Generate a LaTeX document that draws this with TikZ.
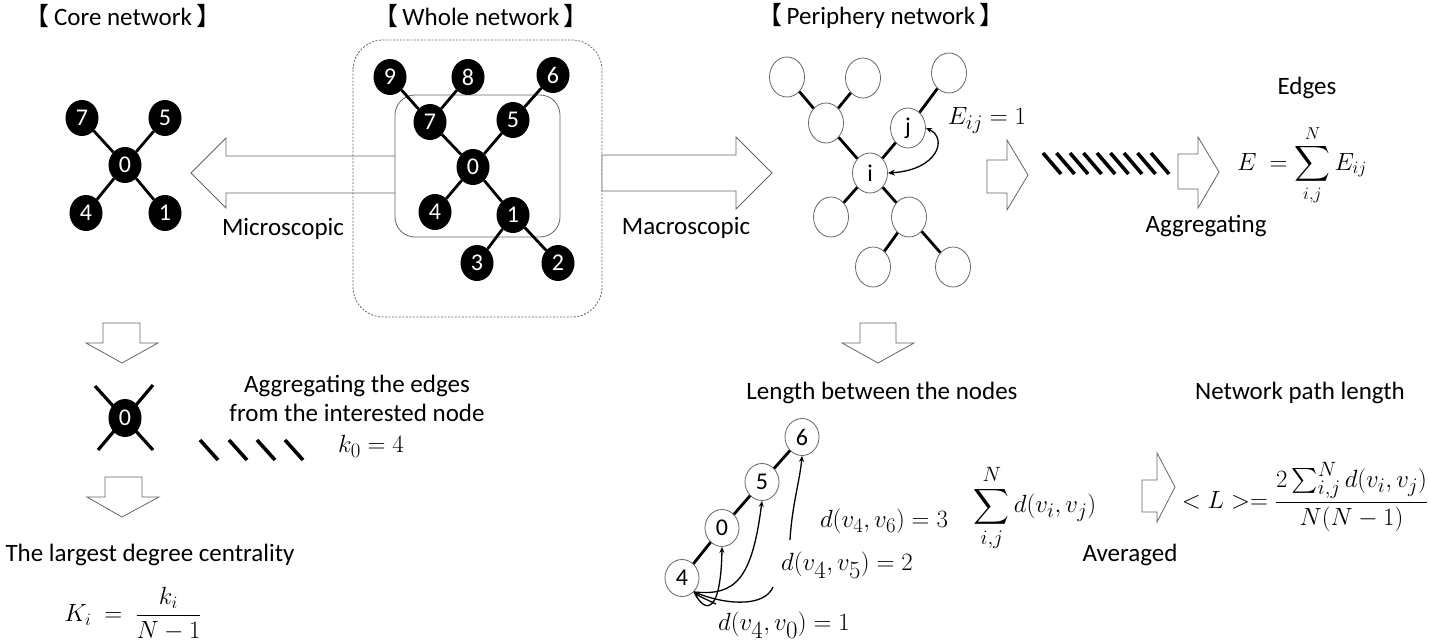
\documentclass[tikz,border=0pt]{standalone}
\usepackage{amsmath}
\usepackage{fontspec}
\setmainfont{Carlito}
\newfontfamily\cjk{Noto Sans CJK JP}
\usetikzlibrary{arrows.meta,shapes.geometric}
\begin{document}
\begin{tikzpicture}[x=1pt,y=-1pt,
  every node/.style={font=\fontsize{25}{29}\selectfont},
  bnode/.style={ellipse,fill=black,text=white,minimum width=33pt,minimum height=36pt,inner sep=0pt,font=\fontsize{24}{28}\selectfont},
  wnode/.style={ellipse,draw=black!60,line width=0.8pt,fill=white,minimum width=35pt,minimum height=40pt,inner sep=0pt,font=\fontsize{24}{28}\selectfont},
  cnode/.style={ellipse,draw=black!60,line width=0.8pt,fill=white,minimum width=34pt,minimum height=37pt,inner sep=0pt,font=\fontsize{24}{28}\selectfont},
  edge/.style={line width=2.8pt},
  blockarrow/.style={draw=black!60,line width=0.8pt,fill=white,line join=miter},
  hatch/.style={line width=3.6pt},
  darrow/.style={line width=1.3pt,-{Stealth[length=6pt,width=5pt]}},
  mathlbl/.style={font=\fontsize{27}{31}\selectfont,inner sep=0pt},
  bigmath/.style={font=\fontsize{33}{37}\selectfont,inner sep=0pt},
]
\useasboundingbox (0,0) rectangle (1429,642);

% titles
\node (t1) at (123,16) {{\cjk 【}\,Core network\,{\cjk 】}};
\node (t2) at (481,16) {{\cjk 【}\,Whole network\,{\cjk 】}};
\node (t3) at (881,16) {{\cjk 【}\,Periphery network\,{\cjk 】}};

% whole network boxes
\draw[black!60,line width=0.8pt,dash pattern=on 2pt off 1.5pt,rounded corners=30pt] (353,40) rectangle (602,317);
\draw[black!60,line width=0.8pt,rounded corners=20pt] (395,95) rectangle (560,237);

% big arrows
\draw[blockarrow,fill=none] (395,156) -- (226,156) -- (226,138) -- (191,173) -- (226,208) -- (226,193) -- (395,193);
\draw[blockarrow] (602,155) -- (736,155) -- (736,137) -- (772,173) -- (736,209) -- (736,191) -- (602,191) -- cycle;
\node (micro) at (283,229) {Microscopic};
\node (macro) at (686,228) {Macroscopic};

% core network
\node[bnode] (c7) at (82,118) {7};
\node[bnode] (c5) at (165,118) {5};
\node[bnode] (c0) at (125,165) {0};
\node[bnode] (c4) at (86,213) {4};
\node[bnode] (c1) at (165,213) {1};
\foreach \a in {c7,c5,c4,c1} \draw[edge] (c0) -- (\a);

% whole network
\node[bnode] (w9) at (390,77) {9};
\node[bnode] (w8) at (468,77) {8};
\node[bnode] (w6) at (553,75) {6};
\node[bnode] (w7) at (430,122) {7};
\node[bnode] (w5) at (513,120) {5};
\node[bnode] (w0) at (473,167) {0};
\node[bnode] (w4) at (435,212) {4};
\node[bnode] (w1) at (513,215) {1};
\node[bnode] (w3) at (477,263) {3};
\node[bnode] (w2) at (558,263) {2};
\draw[edge] (w9) -- (w7);
\draw[edge] (w8) -- (w7);
\draw[edge] (w7) -- (w0);
\draw[edge] (w6) -- (w5);
\draw[edge] (w5) -- (w0);
\draw[edge] (w0) -- (w4);
\draw[edge] (w0) -- (w1);
\draw[edge] (w1) -- (w3);
\draw[edge] (w1) -- (w2);

% periphery network
\node[wnode] (ptl) at (787,77) {};
\node[wnode] (ptm) at (863,78) {};
\node[wnode] (ptr) at (949,73) {};
\node[wnode] (pml) at (826,123) {};
\node[wnode] (pj) at (908,128) {j};
\node[wnode] (pi) at (870,173) {i};
\node[wnode] (pll) at (831,217) {};
\node[wnode] (plr) at (909,217) {};
\node[wnode] (pbl) at (873,267) {};
\node[wnode] (pbr) at (953,267) {};
\draw[edge] (ptl) -- (pml);
\draw[edge] (ptm) -- (pml);
\draw[edge] (pml) -- (pi);
\draw[edge] (ptr) -- (pj);
\draw[edge] (pj) -- (pi);
\draw[edge] (pi) -- (pll);
\draw[edge] (pi) -- (plr);
\draw[edge] (plr) -- (pbl);
\draw[edge] (plr) -- (pbr);
\draw[line width=1.3pt,{Stealth[length=7pt,width=6pt]}-{Stealth[length=6pt,width=5pt]}] (pi.east) .. controls (938,170) and (948,138) .. (pj.east);
\node[mathlbl,font=\fontsize{29}{33}\selectfont] (eij) at (987,121) {$E_{ij}=1$};

% small arrows top right
\draw[blockarrow] (987,160) -- (1007,160) -- (1007,140) -- (1028,175) -- (1007,210) -- (1007,193) -- (987,193) -- cycle;
\foreach \k in {0,...,8} \draw[hatch] (1043+13.5*\k,153) -- (1061+13.5*\k,174);
\draw[blockarrow] (1178,154) -- (1198,154) -- (1198,137) -- (1219,172) -- (1198,208) -- (1198,189) -- (1178,189) -- cycle;
\node (edges) at (1307,88) {Edges};
\node[mathlbl] (esum) at (1302,165) {$\displaystyle E\ =\sum_{i,j}^{N}E_{ij}$};
\node (aggr) at (1206,226) {Aggregating};

% bottom left
\draw[blockarrow] (103,323) -- (140,323) -- (140,343) -- (158,343) -- (122,363) -- (86,343) -- (103,343) -- cycle;
\draw[line width=3.2pt] (95,386) -- (153,450);
\draw[line width=3.2pt] (153,385) -- (98,450);
\node[bnode,minimum width=33pt,minimum height=38pt] (x0) at (125,418) {0};
\foreach \x in {200,229,257,285} \draw[hatch] (\x,440) -- (\x+18,460);
\node[align=center] (aggtxt) at (357,398) {Aggregating the edges\\from the interested node};
\node[mathlbl,font=\fontsize{30}{34}\selectfont] (k0) at (371,446) {$k_0=4$};
\draw[blockarrow] (105,477) -- (142,477) -- (142,497) -- (159,497) -- (122,517) -- (87,497) -- (105,497) -- cycle;
\node (largest) at (150,555) {The largest degree centrality};
\node[mathlbl] (Kf) at (133,614) {$K_i\ =\ \dfrac{k_i}{N-1}$};

% bottom middle
\draw[blockarrow] (860,323) -- (896,323) -- (896,343) -- (914,343) -- (878,363) -- (842,343) -- (860,343) -- cycle;
\node (lenb) at (882,393) {Length between the nodes};
\node[cnode] (n6) at (802,437) {6};
\node[cnode] (n5) at (762,482) {5};
\node[cnode] (n0) at (722,528) {0};
\node[cnode] (n4) at (682,578) {4};
\draw[edge] (n4) -- (n0);
\draw[edge] (n0) -- (n5);
\draw[edge] (n5) -- (n6);
\coordinate (h4) at (694,592);
\coordinate (s6) at (790,540);
\coordinate (s5) at (773,587);
\draw[darrow] (h4) .. controls (706,616) and (721,612) .. (n0.south);
\draw[darrow] (h4) .. controls (735,596) and (752,580) .. (n5.south);
\draw[darrow] (s5) .. controls (765,606) and (730,606) .. (h4);
\draw[darrow] (s6) .. controls (792,505) and (800,480) .. (n6.south);
\draw[line width=1.3pt,-{Stealth[length=6pt,width=5pt]}] (716,604) .. controls (708,600) and (700,597) .. (h4);
\node[mathlbl,font=\fontsize{30}{34}\selectfont] (d6) at (884,521) {$d(v_4,v_6)=3$};
\node[bigmath] (d5) at (847,565) {$d(v_4,v_5)=2$};
\node[bigmath] (d0) at (784,625) {$d(v_4,v_0)=1$};
\node[mathlbl,font=\fontsize{29}{33}\selectfont] (dsum) at (1035,508) {$\displaystyle\sum_{i,j}^{N}d(v_i,v_j)$};
\draw[blockarrow] (1142,480) -- (1157,480) -- (1157,453) -- (1175,487) -- (1157,522) -- (1157,512) -- (1142,512) -- cycle;
\node (avg) at (1130,555) {Averaged};
\node (npl) at (1300,393) {Network path length};
\node[mathlbl,font=\fontsize{28}{32}\selectfont] (Lf) at (1305,497) {$<L>=\dfrac{2\sum_{i,j}^{N}d(v_i,v_j)}{N(N-1)}$};
\end{tikzpicture}
\end{document}
